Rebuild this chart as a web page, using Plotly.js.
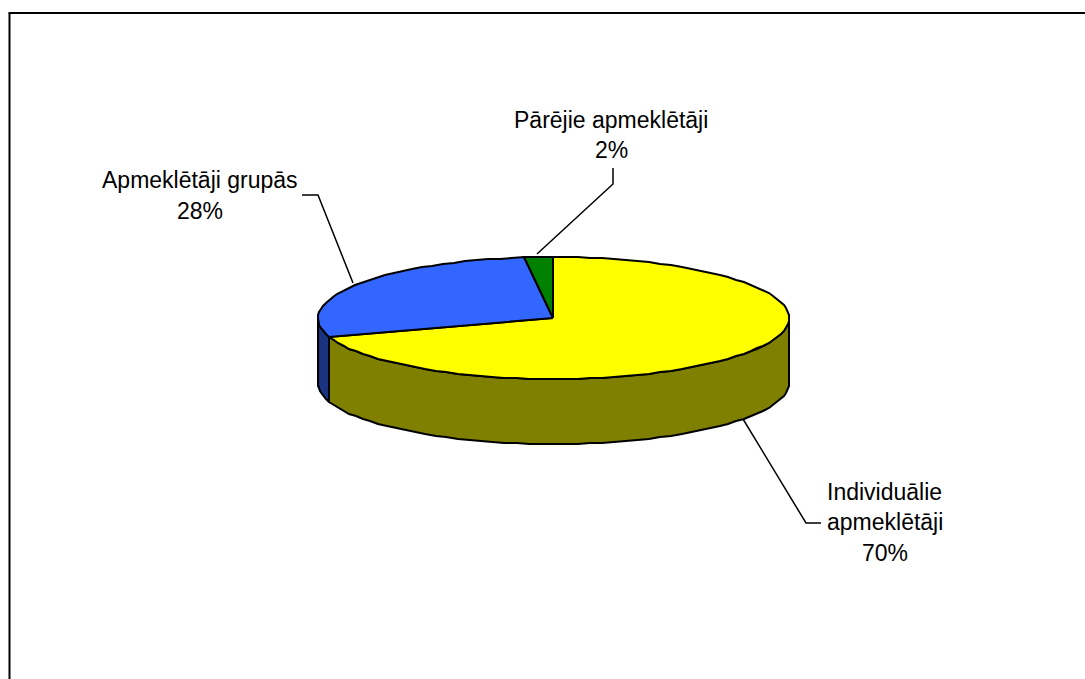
<!DOCTYPE html>
<html>
<head>
<meta charset="utf-8">
<script src="https://cdn.plot.ly/plotly-3.0.1.min.js"></script>
<style>html,body{margin:0;padding:0;background:#fff;overflow:hidden}#chart{width:1085px;height:679px}</style>
</head>
<body>
<div id="chart"></div>
<script>
var categories = ["Individuālie apmeklētāji", "Apmeklētāji grupās", "Pārējie apmeklētāji"];
var values = [70, 28, 2];
var topColors = ["#FFFF00", "#3366FF", "#008000"];
var sideColors = ["#808000", "#1A3380", "#004000"];
var labelLines = [["Individuālie", "apmeklētāji", "70%"], ["Apmeklētāji grupās", "28%"], ["Pārējie apmeklētāji", "2%"]];
var labelX = [884.5, 200, 611];
var labelY = [[492, 522, 553], [180, 211], [120, 150]];
var leaderX = [[743, 806, 821], [353, 318, 302], [537, 613, 613]];
var leaderY = [[419, 523, 523], [283, 195, 195], [254, 184, 168]];

var cx = 553.4, cy = 318, rx = 235.5, ry = 61, depth = 65;
var total = values.reduce(function (a, b) { return a + b; }, 0);

function px(t) { return Math.round(cx + rx * Math.sin(t * Math.PI / 180)); }
function py(t, d) { return Math.round(cy - ry * Math.cos(t * Math.PI / 180) + d); }
function arc(t0, t1, d) {
  var out = [], n = Math.max(2, Math.ceil(Math.abs(t1 - t0) / 3));
  for (var i = 0; i <= n; i++) {
    var t = t0 + (t1 - t0) * i / n;
    out.push([px(t), py(t, d)]);
  }
  return out;
}
function poly(points, fill, width) {
  return {
    type: "scatter", mode: "lines", fill: "toself", fillcolor: fill,
    x: points.map(function (p) { return p[0]; }),
    y: points.map(function (p) { return p[1]; }),
    line: { color: "#000", width: width || 2, shape: "linear" },
    hoverinfo: "skip", showlegend: false
  };
}

var traces = [];
for (var i = 0; i < leaderX.length; i++) {
  traces.push({
    type: "scatter", mode: "lines", x: leaderX[i], y: leaderY[i],
    line: { color: "#000", width: 1.5 }, hoverinfo: "skip", showlegend: false
  });
}

var starts = [], ends = [], acc = 0;
values.forEach(function (v) { starts.push(acc / total * 360); acc += v; ends.push(acc / total * 360); });

// visible walls: front half of the disc, 90 to 270 degrees
values.forEach(function (v, i) {
  var a = Math.max(starts[i], 90), b = Math.min(ends[i], 270);
  if (b > a) {
    var pts = arc(a, b, 0).concat(arc(b, a, depth));
    pts.push(pts[0]);
    traces.push(poly(pts, sideColors[i]));
  }
});
// top faces
values.forEach(function (v, i) {
  var pts = [[Math.round(cx), cy]].concat(arc(starts[i], ends[i], 0));
  pts.push([Math.round(cx), cy]);
  traces.push(poly(pts, topColors[i]));
});

var annotations = [];
labelLines.forEach(function (lines, i) {
  lines.forEach(function (line, j) {
    annotations.push({
      x: labelX[i], y: labelY[i][j], xref: "x", yref: "y", text: line, showarrow: false,
      xanchor: "center", yanchor: "middle",
      font: { family: "Liberation Sans, Arial, sans-serif", size: 23, color: "#000" }
    });
  });
});

var layout = {
  width: 1085, height: 679,
  margin: { l: 0, r: 0, t: 0, b: 0 },
  paper_bgcolor: "#fff", plot_bgcolor: "#fff",
  showlegend: false, hovermode: false,
  xaxis: { range: [0, 1085], visible: false, fixedrange: true },
  yaxis: { range: [679, 0], visible: false, fixedrange: true },
  annotations: annotations,
  shapes: [
    { type: "line", xref: "x", yref: "y", x0: 8.5, x1: 1085, y0: 13, y1: 13, line: { color: "#000", width: 2 } },
    { type: "line", xref: "x", yref: "y", x0: 9.5, x1: 9.5, y0: 13, y1: 679, line: { color: "#000", width: 2 } }
  ]
};
Plotly.newPlot("chart", traces, layout, { displayModeBar: false, staticPlot: true });
</script>
</body>
</html>
